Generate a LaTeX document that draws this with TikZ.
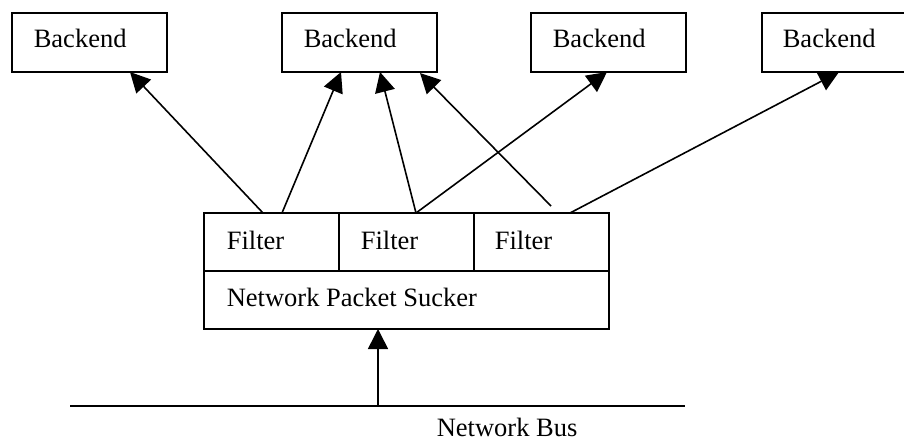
\documentclass[tikz,border=0pt]{standalone}
\usepackage{fontspec}
\setmainfont{Liberation Serif}
\usetikzlibrary{arrows.meta}
\begin{document}
\begin{tikzpicture}[x=1pt,y=-1pt,line width=1.6pt,
  boxst/.style={draw,fill=white,rectangle,inner sep=0pt,outer sep=0pt,anchor=north west},
  bkbox/.style={boxst,minimum width=155pt,minimum height=59pt},
  fbox/.style={boxst,minimum width=135pt,minimum height=58pt},
  lbl/.style={anchor=base west,inner sep=0pt,font=\fontsize{26.5}{30}\selectfont},
  arr/.style={-{Triangle[length=20pt,width=20pt]},line width=1.6pt}]
\clip (0,0) rectangle (904,441);
\fill[white] (0,0) rectangle (904,441);
% connector end points
\coordinate (f1a) at (263,213);
\coordinate (f1b) at (282,213);
\coordinate (f2a) at (416,213);
\coordinate (f3a) at (551,206);
\coordinate (f3b) at (570,213);
\coordinate (t1) at (130,72);
\coordinate (t2a) at (341,72);
\coordinate (t2b) at (380,72);
\coordinate (t2c) at (420,73);
\coordinate (t3) at (607,72);
\coordinate (t4) at (839,72);
\coordinate (busL) at (70,406);
\coordinate (busR) at (685,406);
\coordinate (busM) at (378,406);
% arrows
\draw[arr] (f1a) -- (t1);
\draw[arr] (f1b) -- (t2a);
\draw[arr] (f2a) -- (t2b);
\draw[arr] (f2a) -- (t3);
\draw[arr] (f3a) -- (t2c);
\draw[arr] (f3b) -- (t4);
% backend boxes
\node[bkbox] (b1) at (12,13) {};
\node[bkbox] (b2) at (282,13) {};
\node[bkbox] (b3) at (531,13) {};
\node[bkbox] (b4) at (762,13) {};
\node[lbl] (b1t) at (33,48) {Backend};
\node[lbl] (b2t) at (303,48) {Backend};
\node[lbl] (b3t) at (552,48) {Backend};
\node[lbl] (b4t) at (782,48) {Backend};
% filters and sucker
\node[fbox] (f1) at (204,213) {};
\node[fbox] (f2) at (339,213) {};
\node[fbox] (f3) at (474,213) {};
\node[boxst,minimum width=405pt,minimum height=58pt] (sucker) at (204,271) {};
\node[lbl] (f1t) at (226,249) {Filter};
\node[lbl] (f2t) at (360,249) {Filter};
\node[lbl] (f3t) at (494,249) {Filter};
\node[lbl] (st) at (226,306) {Network Packet Sucker};
% bus
\draw (busL) -- (busR);
\draw[arr] (busM) -- (busM |- sucker.south);
\node[lbl] (bust) at (436,436) {Network Bus};
\end{tikzpicture}
\end{document}
